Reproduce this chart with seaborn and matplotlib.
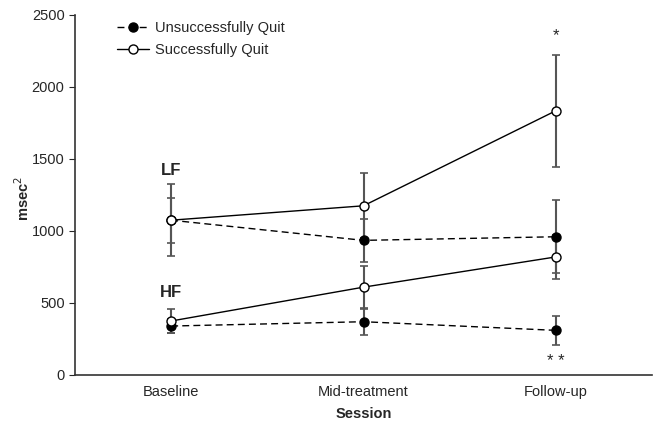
import numpy as np
import pandas as pd
import seaborn as sns
import matplotlib.pyplot as plt

sns.set_style('ticks')
plt.rcParams['font.family'] = ['Liberation Sans', 'DejaVu Sans']

# Data (mean +/- error)
sessions = ['Baseline', 'Mid-treatment', 'Follow-up']
groups = ['Unsuccessfully Quit', 'Successfully Quit']

lf_unsuccess = [1075, 935, 960]
lf_unsuccess_err = [155, 150, 255]
lf_success = [1075, 1175, 1835]
lf_success_err = [250, 225, 390]

hf_unsuccess = [340, 370, 310]
hf_unsuccess_err = [50, 95, 100]
hf_success = [375, 610, 820]
hf_success_err = [80, 150, 150]

rows = []
for band, unsucc, unsucc_err, succ, succ_err in [
        ('LF', lf_unsuccess, lf_unsuccess_err, lf_success, lf_success_err),
        ('HF', hf_unsuccess, hf_unsuccess_err, hf_success, hf_success_err)]:
    for i, s in enumerate(sessions):
        rows.append({'Band': band, 'Group': groups[0], 'x': i, 'Session': s,
                     'msec2': unsucc[i], 'err': unsucc_err[i]})
        rows.append({'Band': band, 'Group': groups[1], 'x': i, 'Session': s,
                     'msec2': succ[i], 'err': succ_err[i]})
df = pd.DataFrame(rows)

fig, ax = plt.subplots(figsize=(6.54, 4.25), dpi=100)
fig.subplots_adjust(left=75/654, right=652/654, bottom=1-375/425, top=1-15/425)

# Error bars first (grey, under the markers)
for _, r in df.iterrows():
    ax.errorbar(r['x'], r['msec2'], yerr=r['err'], fmt='none', ecolor='#555555',
                elinewidth=1.5, capsize=3, capthick=1.2, zorder=1)

# Lines with markers
styles = {groups[0]: dict(ls=(0, (5, 3)), mfc='black'),
          groups[1]: dict(ls='-', mfc='white')}
for band in ['LF', 'HF']:
    for g in groups:
        sub = df[(df['Band'] == band) & (df['Group'] == g)]
        sns.lineplot(x='x', y='msec2', data=sub, ax=ax, color='black', lw=1,
                     linestyle=styles[g]['ls'], marker='o', markersize=6.5,
                     markerfacecolor=styles[g]['mfc'], markeredgecolor='black',
                     markeredgewidth=1, label=g if band == 'LF' else None,
                     zorder=3 if g == groups[0] else 4)

# Annotations
ax.text(0, 1420, 'LF', ha='center', va='center', fontsize=12, fontweight='bold')
ax.text(0, 570, 'HF', ha='center', va='center', fontsize=12, fontweight='bold')
ax.text(2, 2360, '*', ha='center', va='center', fontsize=12)
ax.text(2, 95, '* *', ha='center', va='center', fontsize=12)

ax.set_xlim(-0.5, 2.5)
ax.set_ylim(0, 2500)
ax.set_xticks(range(len(sessions)))
ax.set_xticklabels(sessions)
ax.set_yticks(np.arange(0, 2501, 500))
ax.tick_params(axis='x', length=0, labelsize=10.5, pad=7)
ax.tick_params(axis='y', length=4, labelsize=10.5, direction='out')
ax.set_xlabel('Session', fontsize=10.5, fontweight='bold', labelpad=6)
ax.set_ylabel('msec$^2$', fontsize=10.5, fontweight='bold')
ax.yaxis.set_label_coords(-0.075, 0.49)
sns.despine(ax=ax)
for sp in ['left', 'bottom']:
    ax.spines[sp].set_linewidth(1.2)
    ax.spines[sp].set_color('#333333')

leg = ax.legend(loc='upper left', bbox_to_anchor=(0.05, 1.02), frameon=False,
                fontsize=10.5, handlelength=2.2, handletextpad=0.4, labelspacing=0.55)

fig.savefig('out.png', dpi=100)
